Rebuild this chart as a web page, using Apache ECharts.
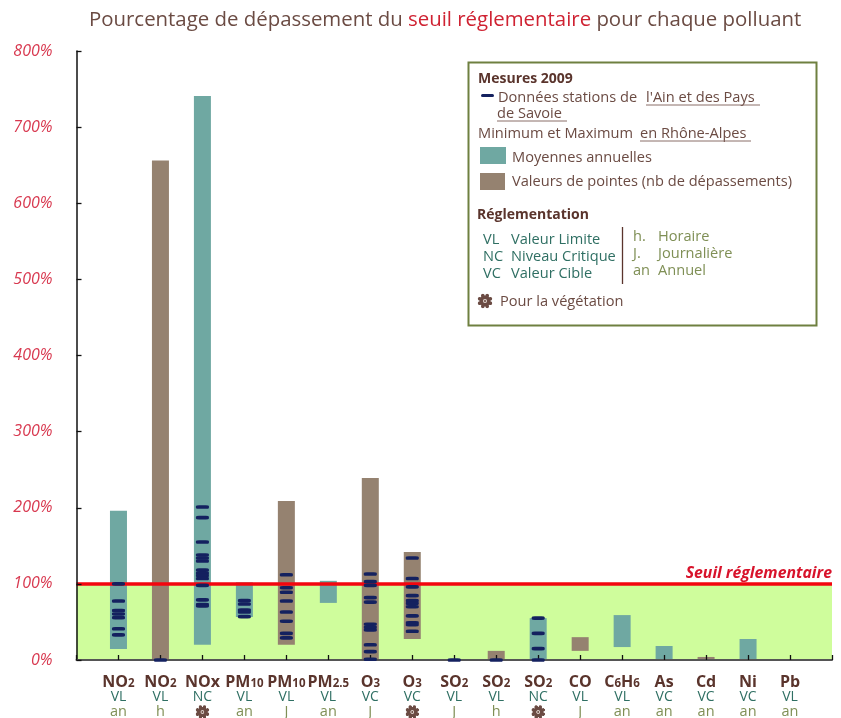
<!DOCTYPE html>
<html><head><meta charset="utf-8">
<style>html,body{margin:0;padding:0;background:#fff}#c{width:841px;height:718px}</style>
<script src="https://cdn.jsdelivr.net/npm/echarts@6/dist/echarts.min.js"></script>
</head><body><div id="c"></div>
<script>
const pollutants = ['NO2','NO2','NOx','PM10','PM10','PM2.5','O3','O3','SO2','SO2','SO2','CO','C6H6','As','Cd','Ni','Pb'];
const regulations = ['VL','VL','NC','VL','VL','VL','VC','VC','VL','VL','NC','VL','VL','VC','VC','VC','VL'];
const periods = ['an','h','veg','an','J','an','J','veg','J','h','veg','J','an','an','an','an','an'];
const rangeKind = ['m','p','m','m','p','m','p','p','p','p','m','p','m','m','p','m','p'];
const rangeMin = [14.5,0,20,56.5,20,75,0,27.6,0,0,0,12,17,0,0,0,0];
const rangeMax = [196,656,741,102,209,104,239,142,0,12,55,30,59,18.4,4,27.6,1];
const stationValues = [
  [100,77.5,65,60.5,55.6,41,33],
  [0],
  [201,187,155,138,134,130,118,114,111,107,98,79,73,71],
  [78,73.5,65.7,63,57],
  [112,95,89,77.5,63,51,35,29],
  [],
  [113,103,98,82,76,47,43,39.5,20,11,1],
  [134,107,96,84.5,78,74.5,70,58,49,46.5,37.7],
  [0],
  [0],
  [55,35,15,0],
  [],[],[],[],[],[]
];
const threshold = 100;

const font = '"Open Sans"';
const brown = '#6b4b43', dark = '#5a342c', red = '#d8384f', teal = '#6fa8a2', taupe = '#958270',
      navy = '#14215f', green = '#2f6f63', olive = '#7f8f55';
const kindColor = {m: teal, p: taupe};

function flowerIcon(){
  const s=32,c=document.createElement('canvas');c.width=c.height=s;
  const g=c.getContext('2d');g.fillStyle=brown;
  g.beginPath();g.arc(16,16,11,0,Math.PI*2);g.fill();
  for(let k=0;k<8;k++){const a=k*Math.PI/4+Math.PI/8;
    g.beginPath();g.arc(16+Math.cos(a)*11.5,16+Math.sin(a)*11.5,3.6,0,Math.PI*2);g.fill();}
  g.fillStyle='#d9cdc6';g.beginPath();g.arc(16,16,4,0,Math.PI*2);g.fill();
  g.fillStyle=brown;g.beginPath();g.arc(16,16,2,0,Math.PI*2);g.fill();
  return c;
}
const icon = flowerIcon();

function nameRich(n){
  return n.replace(/(\d\.\d|\d|x)|([A-Za-z]+)/g, (m,s,b)=> s ? `{s|${s}}` : `{b|${b}}`);
}
const axisCats = [''].concat(pollutants.map((p,i)=>p+'#'+i), ['']);

const chart = echarts.init(document.getElementById('c'));
const T = (x,y,text,fill,extra)=>({type:'text',x,y,z:20,style:Object.assign({text,fill,font:`14.6px ${font}`,textVerticalAlign:'middle'},extra||{})});
const U = (x1,x2,y)=>({type:'line',z:20,shape:{x1,y1:y,x2,y2:y},style:{stroke:'#8a6f68',lineWidth:1}});
chart.setOption({
  animation:false,
  backgroundColor:'#fff',
  title:{
    left:84, top:5,
    text:'{a|Pourcentage de dépassement du }{r|seuil réglementaire}{a| pour chaque polluant}',
    textStyle:{fontWeight:'normal',rich:{
      a:{fontFamily:font,fontWeight:'normal',fontSize:20.4,color:brown},
      r:{fontFamily:font,fontWeight:'normal',fontSize:20.4,color:'#cf2232'}
    }}
  },
  grid:{left:76.5,right:9,top:51,bottom:58,outerBoundsMode:'none'},
  xAxis:{
    type:'category',boundaryGap:false,data:axisCats,z:6,
    axisLine:{lineStyle:{color:'#555',width:2}},
    axisTick:{inside:true,length:5,alignWithLabel:true,lineStyle:{color:'#111',width:1.3}},
    axisLabel:{
      interval:0,margin:13,hideOverlap:false,
      formatter:(v)=>{
        if(!v) return '';
        const i=+v.split('#')[1];
        const per = periods[i]==='veg' ? `{f| }` : `{p|${periods[i]}}`;
        return nameRich(pollutants[i])+`\n{r|${regulations[i]}}\n`+per;
      },
      rich:{
        b:{fontFamily:font,fontWeight:'bold',fontSize:16,color:dark,lineHeight:17,verticalAlign:'bottom'},
        s:{fontFamily:font,fontWeight:'bold',fontSize:11.5,color:dark,lineHeight:17,verticalAlign:'bottom'},
        r:{fontFamily:font,fontSize:14,color:green,lineHeight:14},
        p:{fontFamily:font,fontSize:14.5,color:olive,lineHeight:16},
        f:{width:15,height:15,lineHeight:16,backgroundColor:{image:icon}}
      }
    }
  },
  yAxis:{
    type:'value',min:0,max:800,interval:100,z:6,
    splitLine:{show:false},
    axisLine:{show:true,lineStyle:{color:'#111',width:1.5}},
    axisTick:{show:true,inside:true,length:5,lineStyle:{color:'#111',width:1.3}},
    axisLabel:{margin:24,fontFamily:font,fontStyle:'italic',fontSize:16,color:red,formatter:'{value}%'}
  },
  series:[
    {type:'line',data:[],z:1,silent:true,symbol:'none',
     markArea:{silent:true,itemStyle:{color:'#cffd9c'},data:[[{yAxis:0},{yAxis:threshold}]]}},
    {type:'bar',stack:'r',barWidth:17,z:3,silent:true,data:rangeMin.map((v,i)=>[i+1,v]),itemStyle:{color:'transparent'}},
    {type:'bar',stack:'r',barWidth:17,z:3,silent:true,
     data:rangeMax.map((v,i)=>({value:[i+1,v-rangeMin[i]],itemStyle:{color:kindColor[rangeKind[i]]}}))},
    {type:'line',data:[],z:4,silent:true,symbol:'none',
     markLine:{silent:true,symbol:'none',animation:false,
       lineStyle:{color:'#f3050f',width:3.5,type:'solid'},
       label:{position:'insideEndTop',distance:[0,2],formatter:'Seuil réglementaire',fontFamily:font,fontStyle:'italic',fontWeight:'bold',fontSize:15.8,color:'#d8132b'},
       data:[{yAxis:threshold}]}},
    {type:'scatter',z:7,silent:true,symbol:'roundRect',symbolSize:[13,3.6],itemStyle:{color:navy,opacity:1},
     data:stationValues.flatMap((vals,i)=>vals.map(v=>[i+1,v]))}
  ],
  graphic:[
    {type:'rect',z:19,shape:{x:468.5,y:62.5,width:348,height:263},style:{fill:'#fff',stroke:'#6f8040',lineWidth:2}},
    T(478,79,'Mesures 2009',dark,{font:`bold 14px ${font}`}),
    {type:'rect',z:20,shape:{x:481,y:94,width:13,height:3,r:1.5},style:{fill:navy}},
    T(498,98,'Données stations de ',brown),
    T(646,98,"l'Ain et des Pays",brown), U(646,760,105),
    T(497,114,'de Savoie',brown), U(497,567,121),
    T(478,134,'Minimum et Maximum ',brown),
    T(640,134,'en Rhône-Alpes',brown), U(640,751,141),
    {type:'rect',z:20,shape:{x:480,y:147,width:26,height:17},style:{fill:teal}},
    T(512,158,'Moyennes annuelles',brown),
    {type:'rect',z:20,shape:{x:480,y:173,width:25,height:17},style:{fill:taupe}},
    T(512,182,'Valeurs de pointes (nb de dépassements)',brown),
    T(477,215,'Réglementation',dark,{font:`bold 14px ${font}`}),
    T(483,240,'VL',green),T(511,240,'Valeur Limite',green),
    T(483,257,'NC',green),T(511,257,'Niveau Critique',green),
    T(483,274,'VC',green),T(511,274,'Valeur Cible',green),
    {type:'line',z:20,shape:{x1:622.5,y1:227,x2:622.5,y2:284},style:{stroke:dark,lineWidth:1.3}},
    T(633,237,'h.',olive),T(658,237,'Horaire',olive),
    T(633,254,'J.',olive),T(658,254,'Journalière',olive),
    T(633,271,'an',olive),T(658,271,'Annuel',olive),
    {type:'image',z:20,style:{image:icon,x:477,y:293,width:16,height:16}},
    T(500,302,'Pour la végétation',brown)
  ]
});
</script></body></html>
